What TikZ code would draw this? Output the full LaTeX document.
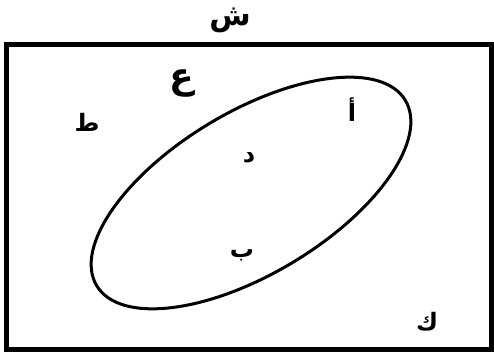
\documentclass[tikz,border=0pt]{standalone}
\usepackage{fontspec}
\newfontfamily\arabicfont[Script=Arabic]{DejaVu Sans}
\TeXXeTstate=1
\usepackage{tikz}

\begin{document}
\begin{tikzpicture}[
    x=1pt, y=1pt,
    letter/.style={inner sep=0pt, font=\arabicfont\bfseries\fontsize{24}{26}\selectfont},
    bigletter/.style={inner sep=0pt, font=\arabicfont\bfseries\fontsize{36}{38}\selectfont},
    frame/.style={draw, line width=5pt},
    set/.style={draw, line width=3pt},
  ]
  \useasboundingbox (0,0) rectangle (494,354);

  % universal set and the subset
  \draw[frame] (6,5) rectangle (491,309);
  \draw[set] (251,161) ellipse [x radius=180, y radius=81, rotate=31];

  \node[letter, font=\arabicfont\bfseries\fontsize{30}{32}\selectfont] (shin) at (230,334) {\beginR ش\endR};
  \node[bigletter] (ain) at (182,271) {\beginR ع\endR};
  \node[letter] (taa) at (87,232) {\beginR ط\endR};
  \node[letter] (alif) at (352,244) {\beginR أ\endR};
  \node[letter] (dal) at (249,196) {\beginR د\endR};
  \node[letter] (baa) at (242,99) {\beginR ب\endR};
  \node[letter] (kaf) at (427,32) {\beginR ك\endR};
\end{tikzpicture}
\end{document}
